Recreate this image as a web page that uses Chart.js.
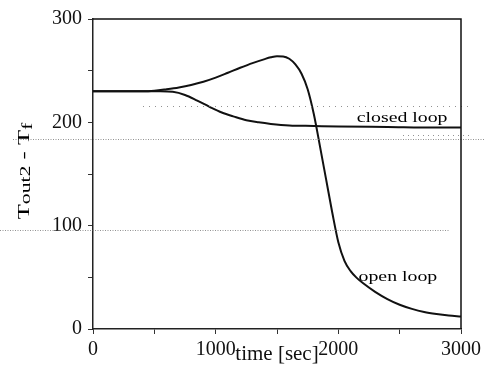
<!DOCTYPE html>
<html>
<head>
<meta charset="utf-8">
<script src="https://cdn.jsdelivr.net/npm/chart.js@4.4.1/dist/chart.umd.min.js"></script>
<style>
  html, body { margin: 0; padding: 0; background: #fff; }
</style>
</head>
<body>
<canvas id="tempChart" width="485" height="383"></canvas>
<script>
// outlet temperature difference, closed loop run
const closedTime = [0, 200, 400, 550, 650, 750, 850, 950, 1050, 1150, 1250, 1350, 1450, 1600, 1800, 2000, 2400, 2800, 3000];
const closedTemp = [230, 230, 230, 230, 229.5, 226.5, 221, 215, 209.5, 205.5, 202, 200, 198.5, 197, 196.5, 196, 195.5, 195, 195];

// same, open loop run
const openTime = [0, 200, 400, 500, 600, 700, 800, 900, 1000, 1100, 1200, 1300, 1400, 1450, 1500, 1550, 1600, 1650, 1700, 1750, 1800, 1850, 1900, 1950, 2000, 2050, 2100, 2150, 2200, 2300, 2400, 2500, 2600, 2700, 2800, 2900, 3000];
const openTemp = [230, 230, 230, 230.5, 232, 233.8, 236.2, 239.3, 243.3, 248, 252.8, 257.3, 261.2, 262.9, 264, 263.8, 261.5, 256, 247, 232, 208, 177, 145, 113, 84, 66, 56, 49.5, 44.5, 36, 29, 23.5, 19.5, 16.5, 14.5, 13, 12];

// axis ticks: marks every step, numbers only on the major values
const xTickStep = 500, xLabelStep = 1000;
const yTickStep = 50, yLabelStep = 100;

// curve annotations [text, time, value at baseline]
const curveLabels = [
  ['closed loop', 2150, 200],
  ['open loop', 2165, 46.5]
];

const serif = '"Liberation Serif", "Times New Roman", serif';

function toPoints(xs, ys) {
  return xs.map((x, i) => ({ x: x, y: ys[i] }));
}

// faint dotted streaks running across the sheet
const streaks = {
  id: 'streaks',
  afterDraw(chart) {
    const ctx = chart.ctx;
    const rows = [
      [13, 485, 139.5, [1, 1.5]],
      [143, 470, 106.5, [1, 5]],
      [0, 450, 230.5, [1, 1.5]],
      [403, 470, 135.5, [1, 4]]
    ];
    ctx.save();
    ctx.strokeStyle = 'rgba(110,110,110,0.75)';
    ctx.lineWidth = 1;
    rows.forEach(([x0, x1, y, dash]) => {
      ctx.setLineDash(dash);
      ctx.beginPath();
      ctx.moveTo(x0, y);
      ctx.lineTo(x1, y);
      ctx.stroke();
    });
    ctx.restore();
  }
};

// top and right edges of the plot box
const frame = {
  id: 'frame',
  afterDraw(chart) {
    const { ctx, chartArea: a } = chart;
    ctx.save();
    ctx.strokeStyle = '#111';
    ctx.lineWidth = 1.5;
    ctx.beginPath();
    ctx.moveTo(a.left, a.top);
    ctx.lineTo(a.right, a.top);
    ctx.lineTo(a.right, a.bottom);
    ctx.stroke();
    ctx.restore();
  }
};

// text next to the curves
const loopLabels = {
  id: 'loopLabels',
  afterDatasetsDraw(chart) {
    const { ctx, scales: { x, y } } = chart;
    ctx.save();
    ctx.fillStyle = '#000';
    ctx.font = '15px ' + serif;
    ctx.textBaseline = 'alphabetic';
    curveLabels.forEach(([text, t, v]) => {
      ctx.save();
      ctx.translate(x.getPixelForValue(t), y.getPixelForValue(v));
      ctx.scale(1.32, 1);
      ctx.fillText(text, 0, 0);
      ctx.restore();
    });
    ctx.restore();
  }
};

// y axis title with subscripts: T_out2 - T_f
const yTitle = {
  id: 'yTitle',
  afterDraw(chart) {
    const ctx = chart.ctx;
    const parts = [
      ['T', 17, 0],
      ['out2', 15, 1.5],
      [' - T', 17, 0],
      ['f', 15, 3]
    ];
    ctx.save();
    ctx.fillStyle = '#000';
    ctx.textBaseline = 'alphabetic';
    let len = 0;
    parts.forEach(([s, size]) => {
      ctx.font = size + 'px ' + serif;
      len += ctx.measureText(s).width;
    });
    const stretch = 1.45;
    ctx.translate(28.5, 171);
    ctx.rotate(-Math.PI / 2);
    ctx.scale(stretch, 1);
    let pos = -len / 2;
    parts.forEach(([s, size, drop]) => {
      ctx.font = size + 'px ' + serif;
      ctx.fillText(s, pos, drop);
      pos += ctx.measureText(s).width;
    });
    ctx.restore();
  }
};

const lineStyle = {
  borderColor: '#111',
  borderWidth: 2,
  pointRadius: 0,
  fill: false,
  cubicInterpolationMode: 'monotone'
};

new Chart(document.getElementById('tempChart').getContext('2d'), {
  type: 'line',
  data: {
    datasets: [
      Object.assign({ label: 'closed loop', data: toPoints(closedTime, closedTemp) }, lineStyle),
      Object.assign({ label: 'open loop', data: toPoints(openTime, openTemp) }, lineStyle)
    ]
  },
  options: {
    responsive: false,
    animation: false,
    layout: { padding: { left: 0, top: 19, right: 22, bottom: 0 } },
    plugins: {
      legend: { display: false },
      tooltip: { enabled: false }
    },
    scales: {
      x: {
        type: 'linear',
        min: 0,
        max: 3000,
        afterFit(scale) { scale.height = 54; },
        border: { display: true, color: '#222', width: 1.5 },
        grid: { drawOnChartArea: false, drawTicks: true, tickLength: 5, tickColor: '#333', tickWidth: 1 },
        ticks: {
          stepSize: xTickStep,
          autoSkip: false,
          maxRotation: 0,
          padding: 4,
          color: '#111',
          font: { family: serif, size: 20 },
          callback: v => (v % xLabelStep === 0 ? v : '')
        },
        title: {
          display: true,
          text: 'time [sec]',
          color: '#111',
          font: { family: serif, size: 21, lineHeight: 1 },
          padding: { top: 0, bottom: 18 }
        }
      },
      y: {
        min: 0,
        max: 300,
        afterFit(scale) { scale.width = 93; },
        border: { display: true, color: '#222', width: 1.5 },
        grid: { drawOnChartArea: false, drawTicks: true, tickLength: 5, tickColor: '#333', tickWidth: 1 },
        ticks: {
          stepSize: yTickStep,
          autoSkip: false,
          padding: 6,
          color: '#111',
          font: { family: serif, size: 20 },
          callback: v => (v % yLabelStep === 0 ? v : '')
        }
      }
    }
  },
  plugins: [streaks, frame, loopLabels, yTitle]
});
</script>
</body>
</html>
